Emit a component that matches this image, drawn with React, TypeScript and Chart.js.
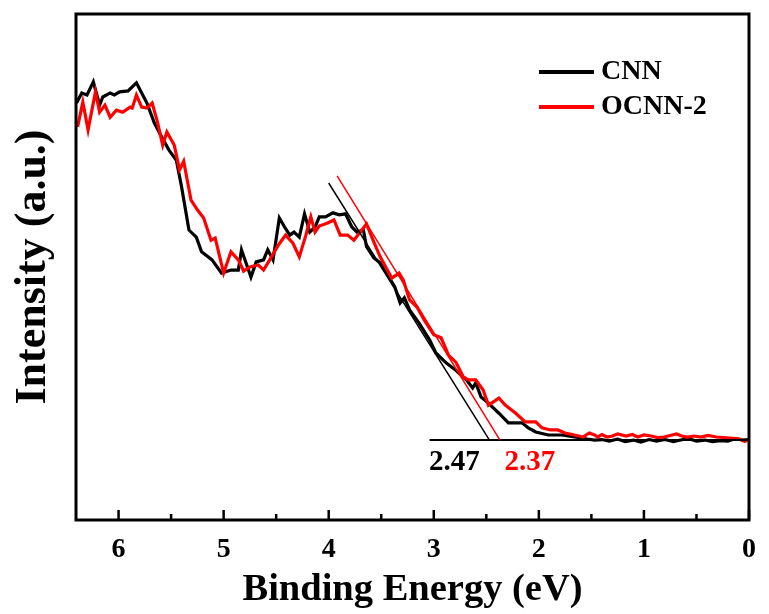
import React, { useEffect, useRef } from 'react';
import { Chart, registerables } from 'chart.js';

Chart.register(...registerables);

const FONT = '"Times New Roman", "Liberation Serif", serif';
const RED = '#ff0000';

const seriesNames = ['CNN', 'OCNN-2'];
const onsetLabels = ['2.47', '2.37'];
const onsetValues = [2.47, 2.37];
const majorTicks = [0, 1, 2, 3, 4, 5, 6];
const minorTicks = [0.5, 1.5, 2.5, 3.5, 4.5, 5.5];

const cnnEnergy = [
  6.40, 6.35, 6.30, 6.24, 6.18, 6.15, 6.08, 6.04, 5.99, 5.91, 5.83, 5.77, 5.73, 5.66, 5.61,
  5.52, 5.45, 5.40, 5.33, 5.26, 5.21, 5.11, 5.02, 4.93, 4.86, 4.83, 4.78, 4.74, 4.69, 4.62,
  4.58, 4.53, 4.47, 4.42, 4.37, 4.33, 4.28, 4.23, 4.18, 4.13, 4.09, 4.03, 3.96, 3.90, 3.84,
  3.78, 3.73, 3.67, 3.64, 3.57, 3.51, 3.45, 3.37, 3.32, 3.28, 3.23, 3.14, 3.04, 2.98, 2.88,
  2.79, 2.69, 2.63, 2.60, 2.55, 2.48, 2.38, 2.29, 2.16, 2.10, 2.03, 1.91, 1.78, 1.66, 1.54,
  1.47, 1.40, 1.33, 1.25, 1.18, 1.10, 1.03, 0.95, 0.88, 0.80, 0.72, 0.65, 0.58, 0.50, 0.42,
  0.35, 0.27, 0.20, 0.13, 0.06, 0.00,
];
const cnnIntensity = [
  82.4, 84.4, 84.0, 86.6, 82.0, 83.6, 84.4, 84.0, 84.6, 84.8, 86.4, 84.0, 82.4, 78.5, 76.5,
  73.1, 71.1, 65.8, 57.3, 55.9, 53.0, 51.4, 48.8, 49.4, 49.4, 53.4, 50.4, 48.0, 51.0, 51.4,
  53.4, 51.4, 59.7, 57.9, 56.3, 56.9, 55.9, 60.5, 56.9, 57.9, 59.9, 59.9, 60.7, 60.3, 60.5,
  57.9, 56.9, 57.3, 54.0, 51.8, 50.8, 48.8, 46.0, 42.9, 43.9, 41.5, 38.9, 35.6, 33.0, 31.0,
  29.6, 27.7, 26.1, 27.1, 24.3, 23.1, 21.1, 19.2, 19.2, 18.2, 17.4, 16.8, 16.8, 16.4, 16.0,
  15.8, 15.9, 15.6, 16.0, 15.5, 15.8, 15.4, 15.9, 15.6, 15.9, 15.5, 15.8, 16.1, 15.6, 15.8,
  15.5, 15.7, 15.6, 16.1, 15.8, 15.9,
];

const ocnnEnergy = [
  6.39, 6.34, 6.29, 6.22, 6.18, 6.13, 6.08, 6.02, 5.96, 5.89, 5.87, 5.83, 5.78, 5.73, 5.68,
  5.63, 5.58, 5.54, 5.47, 5.42, 5.38, 5.31, 5.25, 5.19, 5.12, 5.08, 5.00, 4.93, 4.86, 4.81,
  4.75, 4.67, 4.62, 4.55, 4.48, 4.41, 4.34, 4.28, 4.22, 4.17, 4.13, 4.09, 4.01, 3.95, 3.89,
  3.82, 3.76, 3.70, 3.64, 3.57, 3.51, 3.40, 3.33, 3.29, 3.23, 3.16, 3.09, 3.00, 2.93, 2.86,
  2.79, 2.72, 2.67, 2.60, 2.53, 2.48, 2.38, 2.32, 2.22, 2.13, 2.03, 1.97, 1.89, 1.82, 1.75,
  1.66, 1.58, 1.52, 1.47, 1.44, 1.40, 1.35, 1.30, 1.25, 1.17, 1.11, 1.06, 1.00, 0.93, 0.87,
  0.81, 0.75, 0.69, 0.64, 0.59, 0.52, 0.46, 0.39, 0.31, 0.25, 0.18, 0.09, 0.04, 0.00,
];
const ocnnIntensity = [
  77.7, 82.6, 77.1, 84.6, 80.6, 82.0, 79.6, 81.0, 80.6, 81.6, 81.4, 84.0, 81.6, 81.4, 82.4,
  78.7, 74.1, 76.7, 74.1, 69.2, 70.9, 63.2, 61.3, 59.7, 55.3, 55.7, 48.8, 53.0, 51.4, 49.2,
  50.0, 50.4, 49.4, 51.8, 54.3, 56.3, 54.7, 52.0, 56.1, 59.9, 56.9, 58.1, 58.7, 59.3, 56.3,
  56.3, 55.3, 56.9, 58.5, 54.9, 52.0, 47.8, 48.8, 47.4, 43.5, 42.1, 39.5, 36.6, 36.0, 32.6,
  31.2, 28.3, 27.7, 27.7, 25.7, 22.7, 24.1, 22.7, 21.1, 19.4, 19.4, 18.2, 17.8, 17.8, 17.2,
  16.8, 16.4, 17.2, 16.8, 16.4, 16.9, 16.4, 16.6, 17.0, 16.6, 16.9, 16.4, 16.8, 16.6, 16.3,
  16.4, 16.7, 17.0, 16.6, 16.4, 16.6, 16.4, 16.7, 16.4, 16.3, 16.2, 16.0, 15.5, 15.9,
];

const cnnTangentEnergy = [4.0, 2.47];
const cnnTangentIntensity = [66.6, 15.8];
const ocnnTangentEnergy = [3.92, 2.37];
const ocnnTangentIntensity = [68.0, 15.8];
const baselineEnergy = [3.04, 0];
const baselineIntensity = [15.8, 15.8];

const toPoints = (xs: number[], ys: number[]) => xs.map((x, i) => ({ x, y: ys[i] }));

const decorPlugin = {
  id: 'decor',
  afterDatasetsDraw(chart: any) {
    const { ctx, chartArea: a, scales } = chart;
    const xs = scales.x;
    const ys = scales.y;
    ctx.save();
    // frame
    ctx.strokeStyle = '#000';
    ctx.lineWidth = 3;
    ctx.strokeRect(a.left, a.top, a.right - a.left, a.bottom - a.top);
    // inward ticks
    ctx.lineWidth = 2.5;
    ctx.beginPath();
    for (const v of majorTicks) {
      const px = xs.getPixelForValue(v);
      ctx.moveTo(px, a.bottom);
      ctx.lineTo(px, a.bottom - 10);
    }
    for (const v of minorTicks) {
      const px = xs.getPixelForValue(v);
      ctx.moveTo(px, a.bottom);
      ctx.lineTo(px, a.bottom - 6);
    }
    ctx.stroke();
    // onset labels
    const yb = ys.getPixelForValue(baselineIntensity[0]);
    ctx.font = `bold 29px ${FONT}`;
    ctx.textAlign = 'center';
    ctx.textBaseline = 'middle';
    ctx.fillStyle = '#000';
    ctx.fillText(onsetLabels[0], xs.getPixelForValue(onsetValues[0]) - 35, yb + 22);
    ctx.fillStyle = RED;
    ctx.fillText(onsetLabels[1], xs.getPixelForValue(onsetValues[1]) + 30, yb + 22);
    // legend
    const lx = a.right - 210;
    const rows = [a.top + 58, a.top + 93];
    const colors = ['#000', RED];
    ctx.textAlign = 'left';
    ctx.font = `bold 28px ${FONT}`;
    rows.forEach((ry, i) => {
      ctx.strokeStyle = colors[i];
      ctx.lineWidth = 4;
      ctx.beginPath();
      ctx.moveTo(lx, ry);
      ctx.lineTo(lx + 55, ry);
      ctx.stroke();
      ctx.fillStyle = '#000';
      ctx.fillText(seriesNames[i], lx + 62, ry);
    });
    ctx.restore();
  },
};

export default function App() {
  const ref = useRef<HTMLCanvasElement | null>(null);
  useEffect(() => {
    if (!ref.current) return;
    const chart = new Chart(ref.current, {
      type: 'line',
      data: {
        datasets: [
          {
            label: 'tangent CNN',
            data: toPoints(cnnTangentEnergy, cnnTangentIntensity),
            borderColor: '#000',
            borderWidth: 1.5,
            pointRadius: 0,
            order: 0,
          },
          {
            label: 'tangent OCNN-2',
            data: toPoints(ocnnTangentEnergy, ocnnTangentIntensity),
            borderColor: RED,
            borderWidth: 1.5,
            pointRadius: 0,
            order: 0,
          },
          {
            label: 'baseline',
            data: toPoints(baselineEnergy, baselineIntensity),
            borderColor: '#000',
            borderWidth: 2,
            pointRadius: 0,
            order: 0,
          },
          {
            label: seriesNames[1],
            data: toPoints(ocnnEnergy, ocnnIntensity),
            borderColor: RED,
            borderWidth: 3.2,
            pointRadius: 0,
            tension: 0,
            order: 1,
          },
          {
            label: seriesNames[0],
            data: toPoints(cnnEnergy, cnnIntensity),
            borderColor: '#000',
            borderWidth: 3.2,
            pointRadius: 0,
            tension: 0,
            order: 2,
          },
        ],
      },
      options: {
        responsive: false,
        animation: false,
        layout: { padding: { left: 0, right: 12, top: 14, bottom: 0 } },
        plugins: { legend: { display: false }, tooltip: { enabled: false } },
        scales: {
          x: {
            type: 'linear',
            reverse: true,
            min: 0,
            max: 6.405,
            grid: { display: false, drawTicks: false },
            border: { display: false },
            ticks: {
              stepSize: 1,
              includeBounds: false,
              color: '#000',
              padding: 13,
              maxRotation: 0,
              font: { family: FONT, size: 28, weight: 'bold' },
              callback: (v: any) => String(v),
            },
            title: {
              display: true,
              text: 'Binding Energy (eV)',
              color: '#000',
              font: { family: FONT, size: 38.5, weight: 'bold' },
              padding: { top: 0, bottom: 1 },
            },
            afterFit: (s: any) => {
              s.height = 94;
            },
          },
          y: {
            min: 0,
            max: 100,
            grid: { display: false, drawTicks: false },
            border: { display: false },
            ticks: { display: false },
            title: {
              display: true,
              text: 'Intensity (a.u.)',
              color: '#000',
              font: { family: FONT, size: 44, weight: 'bold' },
              padding: { top: 7, bottom: 0 },
            },
            afterFit: (s: any) => {
              s.width = 76;
            },
          },
        },
      } as any,
      plugins: [decorPlugin],
    });
    return () => chart.destroy();
  }, []);
  return (
    <canvas
      ref={ref}
      width={769}
      height={614}
      style={{ position: 'fixed', left: 0, top: 0, display: 'block', background: '#fff' }}
    />
  );
}
